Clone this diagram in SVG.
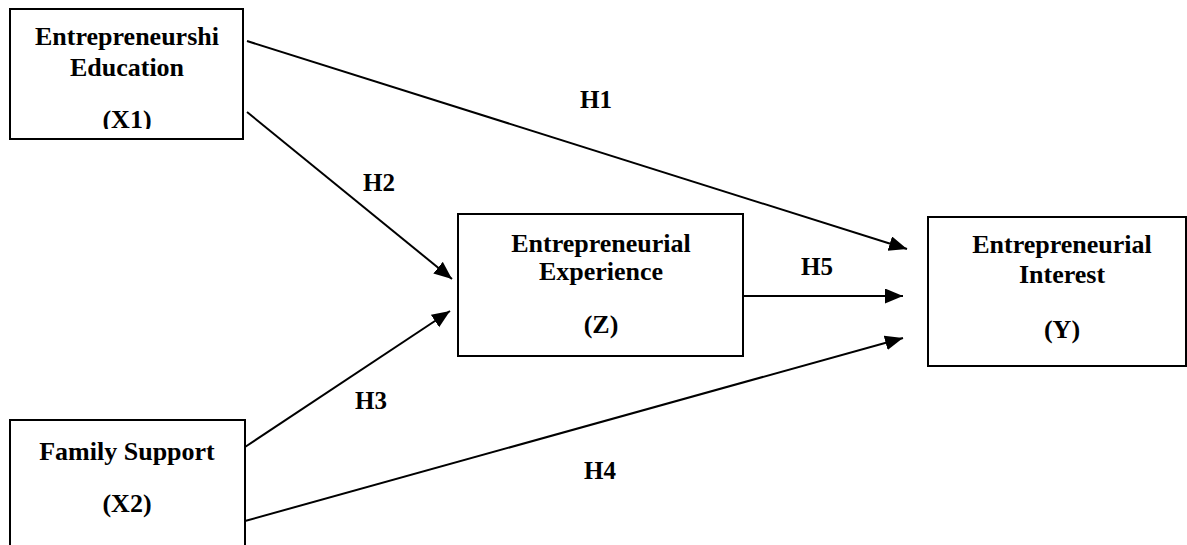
<svg xmlns="http://www.w3.org/2000/svg" width="1187" height="545" viewBox="0 0 1187 545">
<style>
.box{fill:#fff;stroke:#000;stroke-width:2}
.t{font-family:"Liberation Serif","Times New Roman",serif;font-weight:bold;font-size:26px;fill:#000;text-anchor:middle}
.h{font-family:"Liberation Serif","Times New Roman",serif;font-weight:bold;font-size:25px;fill:#000;text-anchor:middle}
.c{stroke:#000;stroke-width:2;fill:none;marker-end:url(#ah)}
</style>
<defs>
<marker id="ah" markerUnits="userSpaceOnUse" markerWidth="20" markerHeight="16" refX="18" refY="7.5" orient="auto">
<path d="M0,0 L18,7.5 L0,15 z" fill="#000"/>
</marker>
<clipPath id="clipX1"><rect x="0" y="0" width="260" height="129"/></clipPath>
</defs>
<rect width="1187" height="545" fill="#fff"/>
<g id="connectors">
<line class="c" x1="247" y1="41" x2="907" y2="249"/>
<line class="c" x1="247" y1="112" x2="452" y2="279"/>
<line class="c" x1="245" y1="447" x2="450" y2="311"/>
<line class="c" x1="245" y1="521" x2="903" y2="338"/>
<line class="c" x1="743" y1="296" x2="903" y2="296"/>
<text class="h" x="596" y="108">H1</text>
<text class="h" x="379" y="191">H2</text>
<text class="h" x="371" y="409">H3</text>
<text class="h" x="600" y="479">H4</text>
<text class="h" x="817" y="275">H5</text>
</g>
<g id="nodeX1">
<rect class="box" x="10" y="9" width="233" height="130"/>
<text class="t" x="127" y="45">Entrepreneurshi</text>
<text class="t" x="127" y="76">Education</text>
<text class="t" x="127" y="128" clip-path="url(#clipX1)">(X1)</text>
</g>
<g id="nodeX2">
<rect class="box" x="10" y="420" width="235" height="140"/>
<text class="t" x="127" y="460">Family Support</text>
<text class="t" x="127" y="512">(X2)</text>
</g>
<g id="nodeZ">
<rect class="box" x="458" y="214" width="285" height="142"/>
<text class="t" x="601" y="252">Entrepreneurial</text>
<text class="t" x="601" y="280">Experience</text>
<text class="t" x="601" y="333">(Z)</text>
</g>
<g id="nodeY">
<rect class="box" x="928" y="217" width="258" height="149"/>
<text class="t" x="1062" y="253">Entrepreneurial</text>
<text class="t" x="1062" y="283">Interest</text>
<text class="t" x="1062" y="338">(Y)</text>
</g>
</svg>
